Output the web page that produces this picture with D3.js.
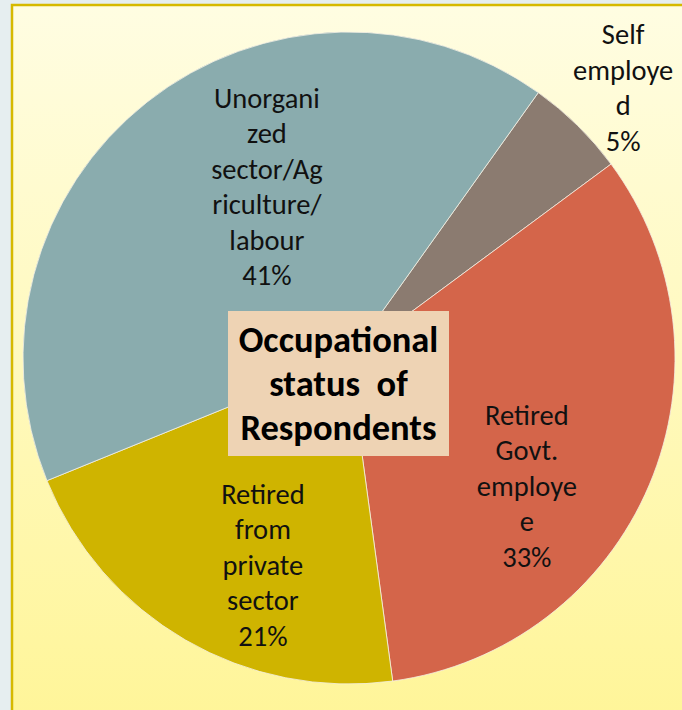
<!DOCTYPE html>
<html><head><meta charset="utf-8">
<script src="https://cdn.jsdelivr.net/npm/d3@7"></script>
<style>
html,body{margin:0;padding:0;background:#e6eef0;}
svg{display:block;}
</style></head>
<body>
<svg id="chart" width="682" height="710"></svg>
<script>
// ---- data ----
const categories = ["Self employed", "Retired Govt. employee", "Retired from private sector", "Unorganized sector/Agriculture/labour"];
const values = [5, 33, 21, 41];
const labelLines = [
  ["Self", "employe", "d", "5%"],
  ["Retired", "Govt.", "employe", "e", "33%"],
  ["Retired", "from", "private", "sector", "21%"],
  ["Unorgani", "zed", "sector/Ag", "riculture/", "labour", "41%"]
];
const titleLines = ["Occupational", "status  of", "Respondents"];

// ---- styles / layout ----
const colors = ["#8b7b70", "#d4654a", "#cfb400", "#8aacae"];
// label anchor as [angle in degrees clockwise from top, radius]
const labelPolar = [[45.4, 385], [125.7, 219], [202.6, 224], [334.4, 190]];
const W = 682, H = 710;
const cx = 349, cy = 358, R = 326;
const startDeg = 35.5;

const svg = d3.select("#chart");
const defs = svg.append("defs");
const grad = defs.append("linearGradient").attr("id", "bg").attr("x1", 0).attr("y1", 0).attr("x2", 0).attr("y2", 1);
grad.append("stop").attr("offset", "0%").attr("stop-color", "#fffde2");
grad.append("stop").attr("offset", "100%").attr("stop-color", "#fff597");

// frame
svg.append("rect").attr("x", 12).attr("y", 5).attr("width", W + 20).attr("height", H + 20)
  .attr("fill", "url(#bg)").attr("stroke", "#d6b900").attr("stroke-width", 2.5);

const g = svg.append("g").attr("transform", `translate(${cx},${cy})`);
const pie = d3.pie().sort(null).value(d => d)
  .startAngle(startDeg * Math.PI / 180).endAngle(startDeg * Math.PI / 180 + 2 * Math.PI);
const arc = d3.arc().innerRadius(0).outerRadius(R);
const arcs = pie(values);

g.selectAll("path.slice").data(arcs).enter().append("path")
  .attr("class", "slice")
  .attr("d", arc)
  .attr("fill", (d, i) => colors[i])
  .attr("stroke", "#f4f0e4").attr("stroke-width", 0.8);

const fontFam = "Carlito, Calibri, Lato, 'Open Sans', sans-serif";
const lh = 35.5;
arcs.forEach((d, i) => {
  const a = labelPolar[i][0] * Math.PI / 180, r = labelPolar[i][1];
  const x = r * Math.sin(a), y = -r * Math.cos(a);
  const lines = labelLines[i];
  const t = g.append("text").attr("text-anchor", "middle")
    .attr("font-family", fontFam).attr("font-size", 28.5).attr("fill", "#111");
  lines.forEach((ln, j) => {
    t.append("tspan").attr("x", x)
      .attr("y", y + (j - (lines.length - 1) / 2) * lh)
      .attr("dy", "0.35em").text(ln);
  });
});

// title box
const bx = 228, by = 311, bw = 221, bh = 145;
svg.append("rect").attr("x", bx).attr("y", by).attr("width", bw).attr("height", bh).attr("fill", "#eed3b4");
const tt = svg.append("text").attr("text-anchor", "middle")
  .attr("font-family", fontFam).attr("font-weight", "bold").attr("font-size", 36.5).attr("fill", "#000")
  .attr("xml:space", "preserve").style("white-space", "pre");
titleLines.forEach((ln, j) => {
  tt.append("tspan").attr("x", bx + bw / 2).attr("y", by + bh / 2 + (j - 1) * 44).attr("dy", "0.35em").text(ln);
});
</script>
</body></html>
